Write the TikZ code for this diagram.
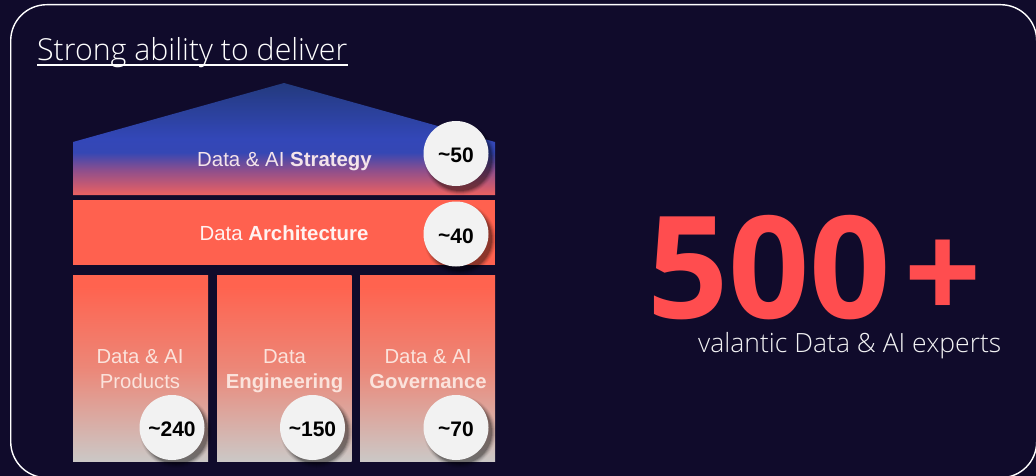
\documentclass[tikz,border=0pt]{standalone}
\usepackage{fontspec}
\setmainfont{Liberation Sans}
\newfontfamily\segl{Open Sans Light}
\newfontfamily\segb{Open Sans}[UprightFont=* Bold]
\definecolor{bgc}{HTML}{100B2B}
\definecolor{orangeA}{HTML}{FF614F}
\definecolor{redB}{HTML}{FF4D4F}
\definecolor{circ}{HTML}{F2F2F2}
\definecolor{txtA}{HTML}{F4E4EA}
\definecolor{txtB}{HTML}{FBE3DC}
\definecolor{rfa}{HTML}{EC6160}
\definecolor{rfb}{HTML}{8F4F8C}
\definecolor{rfc}{HTML}{3547B4}
\definecolor{rfd}{HTML}{3347B8}
\definecolor{rfe}{HTML}{233A7E}
\definecolor{pla}{HTML}{FF634F}
\definecolor{plb}{HTML}{EC8778}
\definecolor{plc}{HTML}{CBC8C6}
\pgfdeclareverticalshading{roofshade}{100bp}{
 color(0bp)=(rfa);
 color(25bp)=(rfa);
 color(36bp)=(rfb);
 color(44bp)=(rfc);
 color(50bp)=(rfd);
 color(75bp)=(rfe);
 color(100bp)=(rfe)}
\pgfdeclareverticalshading{pillarshade}{100bp}{
 color(0bp)=(plc);
 color(25bp)=(plc);
 color(50bp)=(plb);
 color(72bp)=(pla);
 color(100bp)=(pla)}
\tikzset{
 x=1pt,y=-1pt,
 boxtext/.style={font=\fontsize{20.4}{24}\selectfont,text=txtA,inner sep=0pt,align=center},
 pillartext/.style={font=\fontsize{20.3}{24.5}\selectfont,text=txtB,inner sep=0pt,align=center},
 pillar/.style={shading=pillarshade,minimum width=135pt,minimum height=186pt,inner sep=0pt,anchor=north west},
 count/.style={circle,fill=circ,minimum size=65pt,inner sep=0pt,font=\fontsize{21}{24}\selectfont\bfseries,text=black},
}
\newcommand{\softshadow}[2]{%
 \foreach \r/\o in {36/0.05,35/0.07,34/0.10,33/0.14,32/0.18}{
  \fill[black,opacity=\o] (#1+4,#2+5) circle[radius=\r];}}
\newcommand{\cnt}[2]{\smash{\raisebox{#1}{\raisebox{1pt}{\textasciitilde}#2}}}
\begin{document}
\begin{tikzpicture}
\useasboundingbox (0,0) rectangle (1036,476);
\fill[bgc] (0,0) rectangle (1036,476);
\node[draw=white,line width=1.4pt,rounded corners=36pt,minimum width=1026pt,minimum height=473pt,inner sep=0pt,anchor=north west] (frame) at (10,4) {};
\node[anchor=base west,inner sep=0pt,text=white,font=\segl\fontsize{30.3}{34}\selectfont] (title) at (37,61) {Strong ability to deliver};
\draw[white,line width=1.2pt] ([yshift=-4pt]title.base west) -- ([yshift=-4pt]title.base east);
% roof
\path[shading=roofshade] (73,142) -- (284,83) -- (495,142) -- (495,195) -- (73,195) -- cycle;
\node[boxtext] (strategy) at (284.5,162) {Data \& AI \textbf{Strategy}};
% architecture
\node[fill=orangeA,minimum width=422pt,minimum height=65pt,inner sep=0pt,anchor=north west] (arch) at (73,200) {};
\node[boxtext,text=white!92!orangeA] (archt) at (284,233) {Data \textbf{Architecture}};
% pillars
\node[pillar] (p1) at (73,275) {};
\node[pillar,minimum width=134.5pt] (p2) at (217,275) {};
\node[pillar] (p3) at (360,275) {};
\node[pillartext] (p1t) at (140,369) {Data \& AI\\Products};
\node[pillartext] (p2t) at (284.5,371) {Data\\\textbf{Engineering}};
\node[pillartext] (p3t) at (428,369) {Data \& AI\\\textbf{Governance}};
% shadows and counts
\softshadow{456}{154}
\softshadow{456}{234}
\softshadow{172}{427}
\softshadow{312.5}{427}
\softshadow{456}{427}
\node[count] (c50) at (456,153.5) {\cnt{-9pt}{50}};
\node[count] (c40) at (456,234) {\cnt{-9.5pt}{40}};
\node[count] (c240) at (172,427.5) {\cnt{-8.5pt}{240}};
\node[count] (c150) at (312.5,427.5) {\cnt{-8.5pt}{150}};
\node[count] (c70) at (456,427.5) {\cnt{-8.5pt}{70}};
% right
\node[anchor=base west,inner sep=0pt,text=redB,font=\segb\fontsize{142.4}{150}\selectfont] (big) at (647,318) {500};
\node[anchor=base west,inner sep=0pt,text=redB,font=\segb\fontsize{135}{140}\selectfont] (plus) at (904,320) {+};
\node[anchor=base west,inner sep=0pt,text=white!95!bgc,font=\segl\fontsize{26.5}{30}\selectfont] (sub) at (698,352) {valantic Data \& AI experts};
\end{tikzpicture}
\end{document}
